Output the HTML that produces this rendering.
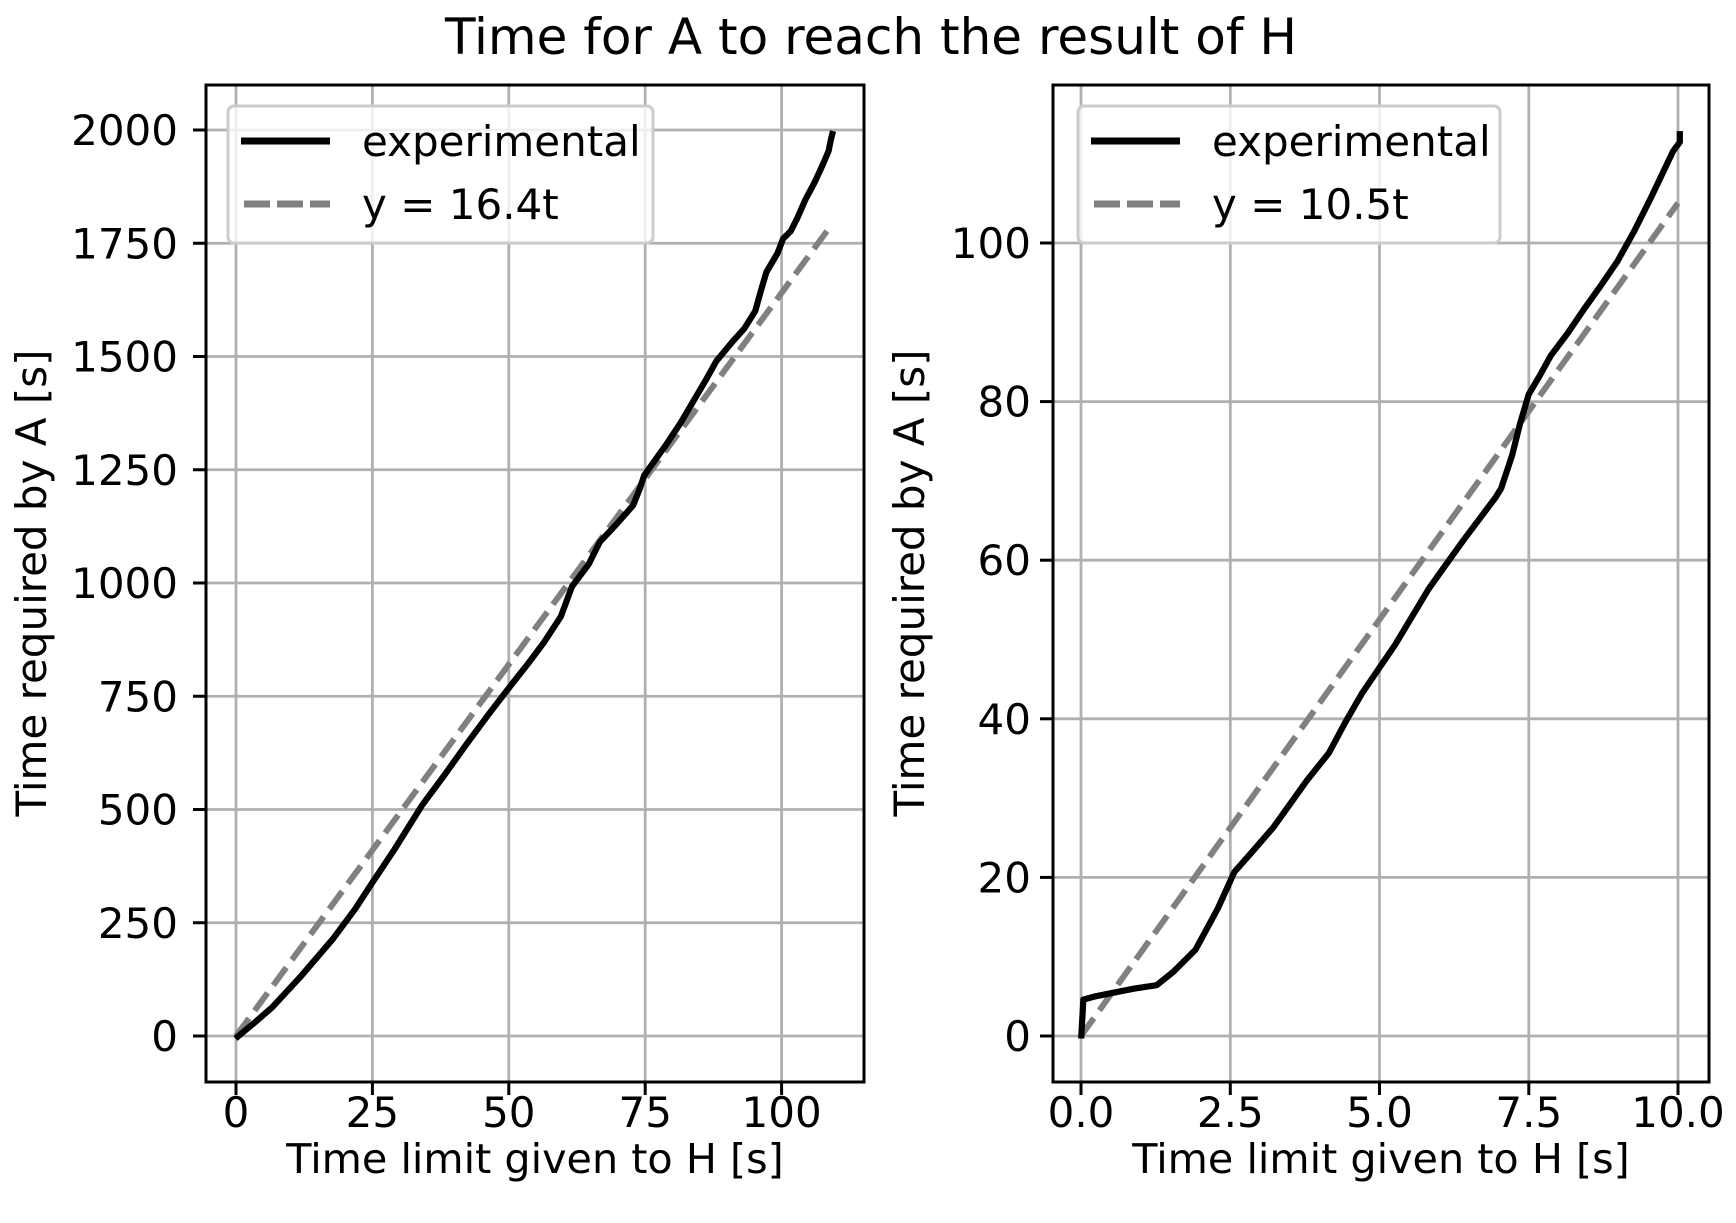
<!DOCTYPE html>
<html><head><meta charset="utf-8"><style>
html,body{margin:0;padding:0;background:#fff;}
svg{display:block;font-family:"DejaVu Sans","Liberation Sans",sans-serif;}
</style></head><body>
<svg width="1736" height="1223" viewBox="0 0 1736 1223" xmlns="http://www.w3.org/2000/svg">
<rect width="1736" height="1223" fill="#fff"/>
<text x="871" y="54" font-size="50" text-anchor="middle">Time for A to reach the result of H</text>

<!-- LEFT -->
<g stroke="#b0b0b0" stroke-width="2.8">
<line x1="236" y1="85" x2="236" y2="1082"/><line x1="372.4" y1="85" x2="372.4" y2="1082"/><line x1="508.8" y1="85" x2="508.8" y2="1082"/><line x1="645.2" y1="85" x2="645.2" y2="1082"/><line x1="781.6" y1="85" x2="781.6" y2="1082"/>
<line x1="206" y1="1036" x2="864" y2="1036"/><line x1="206" y1="922.75" x2="864" y2="922.75"/><line x1="206" y1="809.5" x2="864" y2="809.5"/><line x1="206" y1="696.25" x2="864" y2="696.25"/><line x1="206" y1="583" x2="864" y2="583"/><line x1="206" y1="469.75" x2="864" y2="469.75"/><line x1="206" y1="356.5" x2="864" y2="356.5"/><line x1="206" y1="243.25" x2="864" y2="243.25"/><line x1="206" y1="130" x2="864" y2="130"/>
</g>
<line x1="236" y1="1036" x2="830.7" y2="226" stroke="#808080" stroke-width="6" stroke-dasharray="22,9.5"/>
<g transform="scale(1.1107)"><polyline fill="none" stroke="#000" stroke-width="5.6" stroke-linejoin="round" points="212,935 230,920 245,907 270,880 300,845 320,818 335,795 355,765 380,725 400,698 420,670 440,643 460,617 475,598 490,578 505,555 515,528 530,508 540,488 555,472 570,455 576,440 580,428 590,414 600,400 612,382 625,360 635,343 645,325 660,307 670,296 680,280 685,262 690,245 700,228 705,215 712,208 718,196 725,180 733,165 740,150 746,136 748,126 750,118"/></g>
<rect x="206" y="85" width="658" height="997" fill="none" stroke="#000" stroke-width="3"/>
<g stroke="#000" stroke-width="3">
<line x1="236" y1="1082" x2="236" y2="1095"/><line x1="372.4" y1="1082" x2="372.4" y2="1095"/><line x1="508.8" y1="1082" x2="508.8" y2="1095"/><line x1="645.2" y1="1082" x2="645.2" y2="1095"/><line x1="781.6" y1="1082" x2="781.6" y2="1095"/>
<line x1="193" y1="1036" x2="206" y2="1036"/><line x1="193" y1="922.75" x2="206" y2="922.75"/><line x1="193" y1="809.5" x2="206" y2="809.5"/><line x1="193" y1="696.25" x2="206" y2="696.25"/><line x1="193" y1="583" x2="206" y2="583"/><line x1="193" y1="469.75" x2="206" y2="469.75"/><line x1="193" y1="356.5" x2="206" y2="356.5"/><line x1="193" y1="243.25" x2="206" y2="243.25"/><line x1="193" y1="130" x2="206" y2="130"/>
</g>
<g font-size="42" text-anchor="middle">
<text x="236" y="1127">0</text><text x="372.4" y="1127">25</text><text x="508.8" y="1127">50</text><text x="645.2" y="1127">75</text><text x="781.6" y="1127">100</text>
</g>
<g font-size="42" text-anchor="end">
<text x="178" y="1051">0</text><text x="178" y="937.75">250</text><text x="178" y="824.5">500</text><text x="178" y="711.25">750</text><text x="178" y="598">1000</text><text x="178" y="484.75">1250</text><text x="178" y="371.5">1500</text><text x="178" y="258.25">1750</text><text x="178" y="145">2000</text>
</g>
<text x="535" y="1173" font-size="41.3" text-anchor="middle">Time limit given to H [s]</text>
<text transform="translate(46,583) rotate(-90)" font-size="42" text-anchor="middle">Time required by A [s]</text>
<rect x="228" y="106" width="425" height="137" rx="6" fill="#fff" fill-opacity="0.8" stroke="#ccc" stroke-width="3"/>
<line x1="241" y1="141" x2="330" y2="141" stroke="#000" stroke-width="7"/>
<line x1="244" y1="204" x2="330" y2="204" stroke="#808080" stroke-width="7" stroke-dasharray="26,7"/>
<text x="362" y="156" font-size="42">experimental</text>
<text x="362" y="219" font-size="42">y = 16.4t</text>

<!-- RIGHT -->
<g stroke="#b0b0b0" stroke-width="2.8">
<line x1="1081" y1="85" x2="1081" y2="1082"/><line x1="1230.3" y1="85" x2="1230.3" y2="1082"/><line x1="1379.5" y1="85" x2="1379.5" y2="1082"/><line x1="1528.8" y1="85" x2="1528.8" y2="1082"/><line x1="1678" y1="85" x2="1678" y2="1082"/>
<line x1="1053" y1="1036" x2="1709" y2="1036"/><line x1="1053" y1="877.4" x2="1709" y2="877.4"/><line x1="1053" y1="718.8" x2="1709" y2="718.8"/><line x1="1053" y1="560.2" x2="1709" y2="560.2"/><line x1="1053" y1="401.6" x2="1709" y2="401.6"/><line x1="1053" y1="243" x2="1709" y2="243"/>
</g>
<line x1="1081" y1="1036" x2="1678" y2="203" stroke="#808080" stroke-width="6" stroke-dasharray="22,9.5"/>
<g transform="translate(-4,0) scale(1.1107)"><polyline fill="none" stroke="#000" stroke-width="5.6" stroke-linejoin="round" points="977,935 979,900 990,897 1010,893 1025,890 1045,887 1060,875 1080,855 1100,818 1115,785 1130,768 1150,745 1165,724 1180,703 1200,678 1215,650 1230,624 1245,602 1260,580 1275,555 1290,530 1305,509 1320,488 1335,468 1350,448 1355,440 1360,425 1365,410 1372,382 1380,355 1390,338 1400,320 1415,300 1430,278 1445,257 1460,235 1475,208 1490,178 1500,157 1510,136 1516,128 1516,118"/></g>
<rect x="1053" y="85" width="656" height="997" fill="none" stroke="#000" stroke-width="3"/>
<g stroke="#000" stroke-width="3">
<line x1="1081" y1="1082" x2="1081" y2="1095"/><line x1="1230.3" y1="1082" x2="1230.3" y2="1095"/><line x1="1379.5" y1="1082" x2="1379.5" y2="1095"/><line x1="1528.8" y1="1082" x2="1528.8" y2="1095"/><line x1="1678" y1="1082" x2="1678" y2="1095"/>
<line x1="1040" y1="1036" x2="1053" y2="1036"/><line x1="1040" y1="877.4" x2="1053" y2="877.4"/><line x1="1040" y1="718.8" x2="1053" y2="718.8"/><line x1="1040" y1="560.2" x2="1053" y2="560.2"/><line x1="1040" y1="401.6" x2="1053" y2="401.6"/><line x1="1040" y1="243" x2="1053" y2="243"/>
</g>
<g font-size="42" text-anchor="middle">
<text x="1081" y="1127">0.0</text><text x="1230.3" y="1127">2.5</text><text x="1379.5" y="1127">5.0</text><text x="1528.8" y="1127">7.5</text><text x="1678" y="1127">10.0</text>
</g>
<g font-size="42" text-anchor="end">
<text x="1031" y="1051">0</text><text x="1031" y="892.4">20</text><text x="1031" y="733.8">40</text><text x="1031" y="575.2">60</text><text x="1031" y="416.6">80</text><text x="1031" y="258">100</text>
</g>
<text x="1381" y="1173" font-size="41.3" text-anchor="middle">Time limit given to H [s]</text>
<text transform="translate(924,583) rotate(-90)" font-size="42" text-anchor="middle">Time required by A [s]</text>
<rect x="1078" y="106" width="422" height="137" rx="6" fill="#fff" fill-opacity="0.8" stroke="#ccc" stroke-width="3"/>
<line x1="1091" y1="141" x2="1180" y2="141" stroke="#000" stroke-width="7"/>
<line x1="1094" y1="204" x2="1180" y2="204" stroke="#808080" stroke-width="7" stroke-dasharray="26,7"/>
<text x="1212" y="156" font-size="42">experimental</text>
<text x="1212" y="219" font-size="42">y = 10.5t</text>
</svg>
</body></html>
